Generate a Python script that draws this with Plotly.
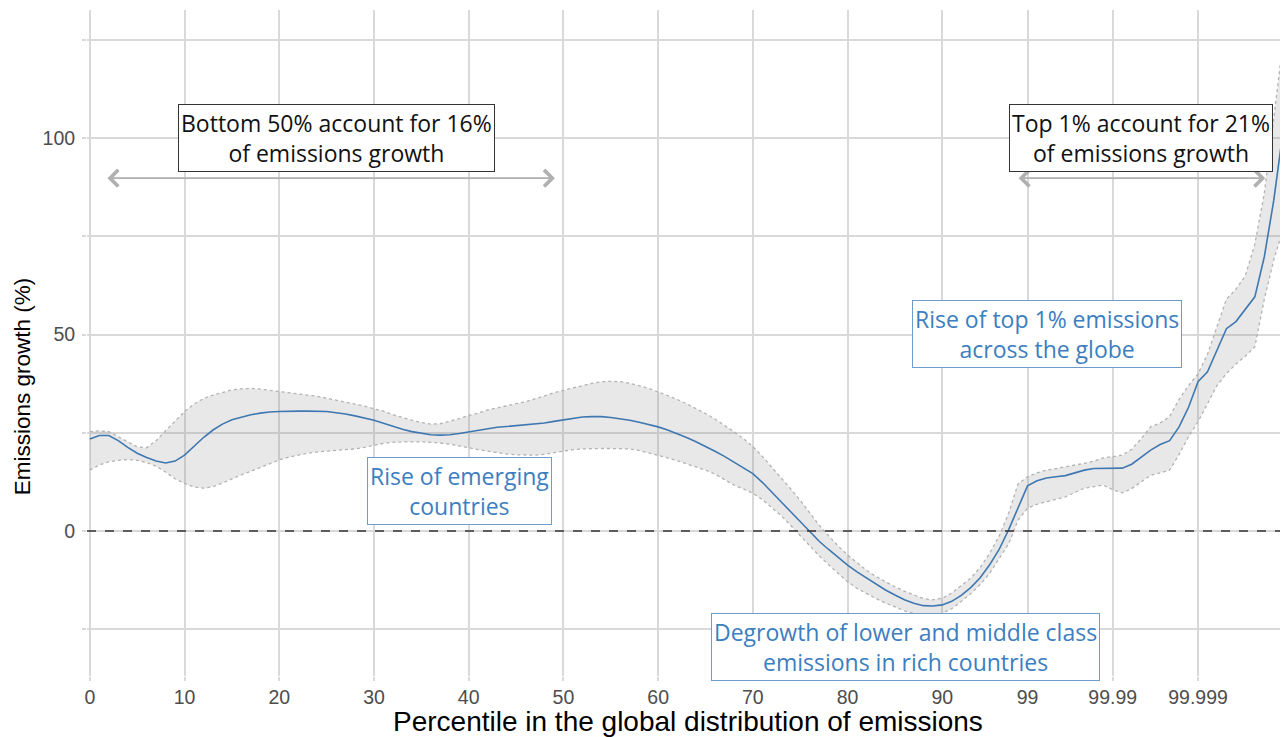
import plotly.graph_objects as go

# x positions are g-percentile indices: 0..99, then top-percentile subdivisions
idx = list(range(127))

tick_positions = [0, 10, 20, 30, 40, 50, 60, 70, 80, 90, 99, 108, 117]
tick_labels = ["0", "10", "20", "30", "40", "50", "60", "70", "80", "90", "99", "99.99", "99.999"]

growth = [
    23.4, 24.3, 24.3, 23.0, 21.3, 19.8, 18.7, 17.8, 17.3, 17.8,
    19.3, 21.5, 23.8, 25.7, 27.2, 28.3, 29.0, 29.6, 30.0, 30.3,
    30.4, 30.5, 30.5, 30.5, 30.5, 30.4, 30.1, 29.8, 29.3, 28.8,
    28.2, 27.4, 26.6, 25.9, 25.3, 24.9, 24.5, 24.4, 24.5, 24.8,
    25.2, 25.7, 26.1, 26.4, 26.6, 26.8, 27.0, 27.2, 27.5, 27.9,
    28.3, 28.7, 29.0, 29.1, 29.1, 28.9, 28.6, 28.2, 27.7, 27.1,
    26.5, 25.7, 24.8, 23.8, 22.7, 21.6, 20.3, 19.0, 17.6, 16.2,
    14.6, 12.4, 10.0, 7.4, 4.9, 2.4, -0.3, -2.6, -4.7, -6.8,
    -8.7, -10.4, -12.0, -13.5, -15.0, -16.3, -17.5, -18.4, -19.0, -19.1,
    -18.8, -17.9, -16.4, -14.4, -11.9, -8.6, -4.7, 0.3, 5.8, 11.5,
    12.8, 13.5, 13.8, 14.1, 14.8, 15.5, 15.9, 15.9, 15.9, 16.0,
    17.0, 18.8, 20.6, 22.0, 23.0, 26.5, 31.5, 38.0, 40.5, 46.0,
    51.5, 53.3, 56.6, 59.6, 69.8, 84.2, 102.2,
]

upper = [
    25.3, 25.5, 25.3, 24.0, 22.8, 21.4, 21.2, 23.0, 25.5, 28.0,
    30.4, 32.3, 33.7, 34.6, 35.3, 35.9, 36.2, 36.3, 36.1, 35.8,
    35.6, 35.3, 35.0, 34.7, 34.3, 33.8, 33.3, 32.9, 32.4, 31.8,
    31.1, 30.5, 29.6, 28.8, 28.2, 27.6, 27.2, 27.3, 27.9, 28.6,
    29.4, 30.0, 30.8, 31.4, 31.9, 32.4, 32.9, 33.6, 34.4, 35.2,
    35.8, 36.5, 37.1, 37.6, 38.0, 38.1, 38.0, 37.6, 37.0, 36.3,
    35.4, 34.5, 33.5, 32.4, 31.2, 29.9, 28.5, 27.0, 25.3, 23.5,
    21.5, 19.0, 16.3, 13.5, 10.7, 7.8, 4.6, 1.5, -1.2, -3.8,
    -6.1, -8.1, -10.0, -11.6, -13.0, -14.2, -15.3, -16.3, -17.2, -17.5,
    -17.1, -15.8, -14.0, -12.0, -9.3, -5.7, -1.3, 4.5, 12.0, 13.8,
    14.8, 15.5, 15.9, 16.4, 16.8, 17.2, 17.8, 18.6, 19.0, 19.3,
    20.8, 23.5, 26.5, 27.5, 29.1, 33.5, 37.0, 40.0, 45.0, 52.0,
    59.0, 61.5, 65.0, 73.0, 86.0, 105.0, 125.0,
]

lower = [
    15.5, 16.8, 17.6, 18.0, 18.2, 18.0, 17.4, 16.5, 15.0, 13.3,
    12.1, 11.2, 10.9, 11.3, 12.2, 13.3, 14.3, 15.2, 16.2, 17.2,
    18.1, 18.8, 19.4, 19.8, 20.1, 20.3, 20.5, 20.6, 20.9, 21.3,
    21.8, 22.3, 22.6, 22.7, 22.7, 22.7, 22.6, 22.4, 22.1, 21.7,
    21.2, 20.7, 20.3, 19.9, 19.6, 19.4, 19.3, 19.3, 19.5, 19.9,
    20.4, 20.7, 20.9, 21.0, 21.0, 21.0, 21.0, 20.9, 20.5, 19.9,
    19.3, 18.6, 17.9, 17.1, 16.4, 15.5, 14.5, 13.2, 11.7, 10.7,
    9.6, 8.0, 6.0, 3.9, 1.4, -1.2, -3.8, -6.3, -8.6, -10.8,
    -12.9, -14.6, -16.0, -17.2, -18.3, -19.4, -20.3, -21.0, -21.4, -21.5,
    -20.9, -19.8, -18.0, -16.0, -13.6, -10.8, -7.0, -3.3, 2.8, 5.8,
    6.8, 7.5, 8.1, 8.7, 9.8, 10.9, 11.3, 11.7, 10.5, 9.7,
    10.8, 12.5, 14.2, 14.8, 15.5, 19.5, 24.0, 27.8, 32.5, 37.0,
    40.1, 42.5, 44.5, 46.9, 59.0, 69.0, 77.0,
]

LINE_COLOR = "#3f78b1"
BLUE_TXT = "#3c7ebf"
BAND_EDGE = "#b3b3b3"
ANN_FONT = "Open Sans"
ANN_SIZE = 23

fig = go.Figure()

fig.add_trace(go.Scatter(
    x=idx, y=lower, mode="lines",
    line=dict(color=BAND_EDGE, width=1.3, dash="dot"),
    hoverinfo="skip", showlegend=False,
))
fig.add_trace(go.Scatter(
    x=idx, y=upper, mode="lines",
    line=dict(color=BAND_EDGE, width=1.3, dash="dot"),
    fill="tonexty", fillcolor="rgba(140,140,140,0.2)",
    hoverinfo="skip", showlegend=False,
))
fig.add_trace(go.Scatter(
    x=idx, y=growth, mode="lines",
    line=dict(color=LINE_COLOR, width=1.6),
    showlegend=False,
))

fig.add_hline(y=0, line=dict(color="#333333", width=1.3, dash="dash"), layer="above")

# Arrows
for x0, x1 in [(1.7, 49.1), (97.9, 124.1)]:
    fig.add_annotation(
        x=x1, y=89.8, ax=x0, ay=89.8, axref="x", ayref="y",
        text="", showarrow=True, arrowside="end+start", arrowhead=4,
        arrowsize=2.0, arrowwidth=1.6, arrowcolor="#b0b0b0",
        standoff=0, startstandoff=0,
    )

# Black boxes
for xc, txt in [(26.0, "Bottom 50% account for 16%<br>of emissions growth"),
                (111.0, "Top 1% account for 21%<br>of emissions growth")]:
    fig.add_annotation(
        x=xc, y=100, text=txt, showarrow=False,
        font=dict(family=ANN_FONT, size=ANN_SIZE, color="#111111"),
        bgcolor="white", bordercolor="#333333", borderwidth=1, borderpad=2,
        align="center",
    )

# Blue boxes
for xc, yc, txt in [
    (39.0, 10.3, "Rise of emerging<br>countries"),
    (86.1, -29.6, "Degrowth of lower and middle class<br>emissions in rich countries"),
    (101.1, 50.1, "Rise of top 1% emissions<br>across the globe"),
]:
    fig.add_annotation(
        x=xc, y=yc, text=txt, showarrow=False,
        font=dict(family=ANN_FONT, size=ANN_SIZE, color=BLUE_TXT),
        bgcolor="white", bordercolor="#6f9ccc", borderwidth=1, borderpad=2,
        align="center",
    )

# Axis titles (placed manually)
fig.add_annotation(
    xref="paper", yref="paper", x=0.5, y=0, yshift=-45,
    xanchor="center", yanchor="middle", showarrow=False,
    text="Percentile in the global distribution of emissions",
    font=dict(family="Liberation Sans, Arial, sans-serif", size=28, color="black"),
)
fig.add_annotation(
    xref="paper", yref="paper", x=0, y=0.435, xshift=-65,
    xanchor="center", yanchor="middle", showarrow=False, textangle=-90,
    text="Emissions growth (%)",
    font=dict(family="Liberation Sans, Arial, sans-serif", size=22.5, color="black"),
)

fig.update_layout(
    width=1280, height=729,
    paper_bgcolor="white", plot_bgcolor="white",
    margin=dict(l=79, r=0, t=2, b=61),
    font=dict(family="Liberation Sans, Arial, sans-serif"),
    showlegend=False,
)
fig.update_xaxes(
    range=[-0.3, 126.5], automargin=False,
    tickmode="array", tickvals=tick_positions, ticktext=tick_labels,
    showgrid=True, gridcolor="#d9d9d9", gridwidth=1.5,
    ticks="outside", ticklen=4, tickcolor="#d9d9d9", tickwidth=1.5,
    tickfont=dict(size=19.5, color="#4d4d4d"),
    showline=False, zeroline=False,
)
fig.update_yaxes(
    range=[-36.9, 132.6], automargin=False,
    tickmode="array", tickvals=[-25, 0, 25, 50, 75, 100, 125],
    ticktext=["", "0", "", "50", "", "100", ""],
    showgrid=True, gridcolor="#d9d9d9", gridwidth=1.5,
    ticks="outside", ticklen=4, tickcolor="#d9d9d9", tickwidth=1.5,
    tickfont=dict(size=19.5, color="#4d4d4d"), ticklabelstandoff=3,
    showline=False, zeroline=False,
)

fig.write_html("out.html")
